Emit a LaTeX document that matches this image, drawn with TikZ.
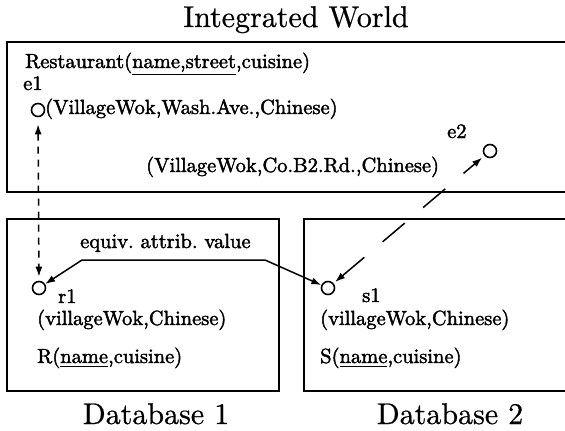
\documentclass[tikz,border=0pt]{standalone}
\usepackage{fontspec}
\usetikzlibrary{arrows.meta}
\newfontfamily\scanfont{lmroman10-regular.otf}[FakeBold=2]
\newfontfamily\headfont{lmroman10-regular.otf}[FakeBold=0.6]
\newcommand\bodytxt[1]{\scalebox{2.05}{\scanfont #1}}
\newcommand\headtxt[1]{\scalebox{3.0}{\headfont #1}}
\tikzset{
  boxline/.style={line width=1.9pt},
  tx/.style={inner sep=0pt, anchor=base west},
  ttl/.style={inner sep=0pt, anchor=base},
  obj/.style={circle, draw, line width=1.6pt, minimum size=13pt, inner sep=0pt},
  arr/.style={line width=1.5pt, {Latex[length=10pt,width=7pt]}-{Latex[length=10pt,width=7pt]}},
  shortdash/.style={dash pattern=on 7pt off 6pt},
  longdash/.style={dash pattern=on 29pt off 24pt}
}
\begin{document}
\begin{tikzpicture}[x=1pt,y=-1pt]
\useasboundingbox (0,0) rectangle (565,431);
\clip (0,0) rectangle (565,431);
% boxes
\draw[boxline] (7,42) rectangle (580,192);
\draw[boxline] (7,219) rectangle (279,391);
\draw[boxline] (304,219) rectangle (580,391);
% titles
\node[ttl] (title) at (296,27) {\headtxt{Integrated World}};
\node[ttl] (db1) at (156,424) {\headtxt{Database 1}};
\node[ttl] (db2) at (450,424) {\headtxt{Database 2}};
% top box texts
\node[tx] (rest) at (25,68) {\bodytxt{Restaurant(\underline{name,street},cuisine)}};
\node[tx] (e1lab) at (23,90) {\bodytxt{e1}};
\node[tx] (t1) at (45,114) {\bodytxt{(VillageWok,Wash.Ave.,Chinese)}};
\node[tx] (t2) at (146,172) {\bodytxt{(VillageWok,Co.B2.Rd.,Chinese)}};
\node[tx] (e2lab) at (447,138) {\bodytxt{e2}};
% objects
\node[obj] (e1) at (38,110) {};
\node[obj] (e2) at (490,151) {};
\node[obj] (r1) at (39,288) {};
\node[obj] (s1) at (328,288) {};
% left box texts
\node[tx] (eq) at (80,248) {\bodytxt{equiv.\ attrib.\ value}};
\node[tx] (r1lab) at (58,303) {\bodytxt{r1}};
\node[tx] (rt) at (37,325) {\bodytxt{(villageWok,Chinese)}};
\node[tx] (rs) at (37,363) {\bodytxt{R(\underline{name},cuisine)}};
% right box texts
\node[tx] (s1lab) at (362,302) {\bodytxt{s1}};
\node[tx] (st) at (320,325) {\bodytxt{(villageWok,Chinese)}};
\node[tx] (ss) at (320,363) {\bodytxt{S(\underline{name},cuisine)}};
% connectors
\coordinate (b1) at (82,260);
\coordinate (b2) at (265,260);
\draw[arr, line join=miter] (r1) -- (b1) -- (b2) -- (s1);
\draw[arr, shortdash, shorten <=7pt, shorten >=4pt] (e1) -- (r1);
\draw[arr, longdash, shorten <=2pt, shorten >=3pt] (s1) -- (e2);
\end{tikzpicture}
\end{document}
